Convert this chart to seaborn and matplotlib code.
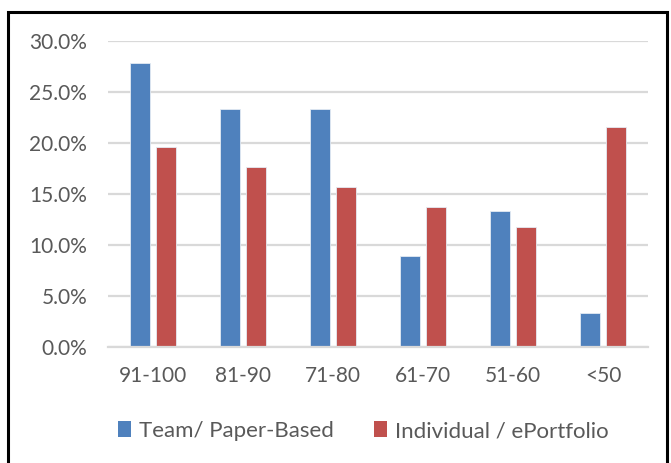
import matplotlib
matplotlib.use("Agg")
import matplotlib.pyplot as plt
import seaborn as sns
import pandas as pd
from matplotlib.ticker import PercentFormatter, MultipleLocator
from matplotlib.patches import Rectangle, Patch

categories = ["91-100", "81-90", "71-80", "61-70", "51-60", "<50"]
team_paper = [27.8, 23.3, 23.3, 8.9, 13.3, 3.3]
individual_eport = [19.6, 17.6, 15.7, 13.7, 11.8, 21.6]
series_names = ["Team/ Paper-Based", "Individual / ePortfolio"]
colors = ["#4F81BD", "#C0504D"]

df = pd.DataFrame({
    "Score": categories * 2,
    "Pct": [v / 100 for v in team_paper] + [v / 100 for v in individual_eport],
    "Series": [series_names[0]] * len(categories) + [series_names[1]] * len(categories),
})

sns.set_theme(style="white")
plt.rcParams["font.family"] = ["Lato", "DejaVu Sans"]

fig = plt.figure(figsize=(6.71, 4.63), dpi=100)
ax = fig.add_axes([108 / 671, 1 - 347 / 463, 540 / 671, 306 / 463])

sns.barplot(data=df, x="Score", y="Pct", hue="Series", palette=colors,
            width=0.56, gap=0.2, ax=ax, legend=False, saturation=1,
            edgecolor="#e4ebf3", linewidth=0.6, errorbar=None)

ax.set_ylim(0, 0.30)
ax.yaxis.set_major_locator(MultipleLocator(0.05))
ax.yaxis.set_major_formatter(PercentFormatter(1.0, decimals=1))
ax.set_xlabel("")
ax.set_ylabel("")
ax.grid(axis="y", color="#D9D9D9", linewidth=1.6)
ax.set_axisbelow(True)
for s in ["top", "right", "left"]:
    ax.spines[s].set_visible(False)
ax.spines["bottom"].set_color("#D9D9D9")
ax.spines["bottom"].set_linewidth(1.6)
ax.tick_params(axis="both", length=0, labelsize=15, colors="#595959")
ax.tick_params(axis="y", pad=15)
ax.tick_params(axis="x", pad=14)

handles = [Patch(facecolor=c, edgecolor="none") for c in colors]
fig.legend(handles, series_names, loc="center", bbox_to_anchor=(363 / 671, 1 - 431 / 463),
           ncol=2, frameon=False, fontsize=16, handlelength=0.6, handleheight=0.75,
           handletextpad=0.35, columnspacing=1.8, labelcolor="#595959")

fig.patches.append(Rectangle((8 / 671, -0.05), 659 / 671, 1.05 - 12 / 463,
                             transform=fig.transFigure, fill=False,
                             edgecolor="black", linewidth=2.2))

fig.savefig("out.png", dpi=100, facecolor="white")
